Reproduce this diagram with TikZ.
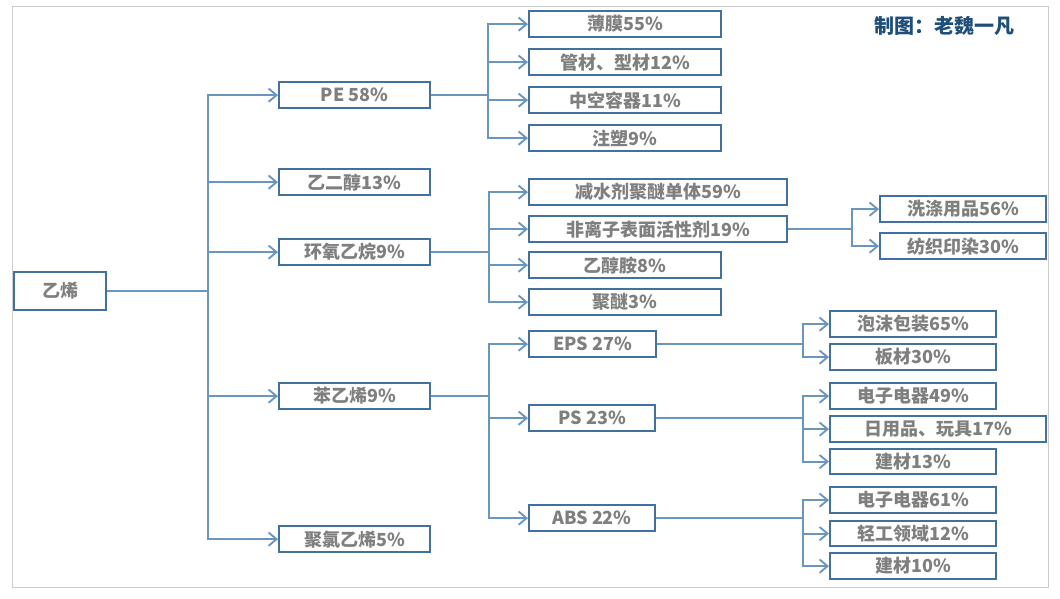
\documentclass[tikz,border=0pt]{standalone}
\usepackage{fontspec}
\setmainfont{Noto Sans CJK SC}
\usetikzlibrary{arrows.meta}
\definecolor{boxline}{HTML}{41719C}
\definecolor{connline}{HTML}{6A96BE}
\definecolor{labeltext}{HTML}{7F7F7F}
\definecolor{creditblue}{HTML}{1F4E79}
\tikzset{
  x=0.75pt, y=-0.75pt,
  itembox/.style={draw=boxline, line width=1.4pt, fill=white, inner sep=0pt, text=labeltext,
    font=\fontsize{13.5pt}{15pt}\selectfont\bfseries, anchor=north west},
  conn/.style={draw=connline, line width=1.4pt},
  arrowconn/.style={conn, -{Straight Barb[length=6pt,width=10pt,line width=1.4pt]}},
  frameline/.style={draw=black!20, line width=0.75pt},
  credit/.style={text=creditblue, font=\fontsize{15pt}{17pt}\selectfont\bfseries, inner sep=0pt}
}
\newcommand{\itemnode}[6]{% name, x0, y0, x1, y1, text
  \pgfmathsetlengthmacro{\itemw}{(#4-#2-0.8)*0.75pt}
  \pgfmathsetlengthmacro{\itemh}{(#5-#3-0.6)*0.75pt}
  \node[itembox, minimum width=\itemw, minimum height=\itemh] (#1) at (#2,#3) {#6};
}
\begin{document}
\begin{tikzpicture}
\useasboundingbox (0,0) rectangle (1060,599);
\draw[frameline] (12,7) rectangle (1048,587);
\node[credit] (creditnode) at (944,26) {制图：老魏一凡};

\coordinate (busyi) at (208,291);
\coordinate (buspe) at (488,95);
\coordinate (buseo) at (489,251);
\coordinate (busst) at (489,395);
\coordinate (buseob) at (852,228);
\coordinate (buseps) at (803,344);
\coordinate (busps) at (803,418);
\coordinate (busabs) at (803,518);

\itemnode{yi}{13}{271}{106}{310}{乙烯}
\itemnode{pe}{278}{81}{430}{108}{PE 58\%}
\itemnode{eg}{278}{168}{430}{195}{乙二醇13\%}
\itemnode{eo}{278}{238}{430}{265}{环氧乙烷9\%}
\itemnode{st}{278}{382}{430}{409}{苯乙烯9\%}
\itemnode{pvc}{278}{525}{430}{552}{聚氯乙烯5\%}

\itemnode{pea}{528}{10}{721}{37}{薄膜55\%}
\itemnode{peb}{528}{48}{721}{75}{管材、型材12\%}
\itemnode{pec}{528}{86}{721}{113}{中空容器11\%}
\itemnode{ped}{528}{124}{721}{151}{注塑9\%}

\itemnode{eoa}{528}{178}{787}{205}{减水剂聚醚单体59\%}
\itemnode{eob}{528}{215}{787}{242}{非离子表面活性剂19\%}
\itemnode{eoc}{528}{251}{721}{278}{乙醇胺8\%}
\itemnode{eod}{528}{288}{721}{315}{聚醚3\%}

\itemnode{eps}{528}{330}{656}{357}{EPS 27\%}
\itemnode{ps}{528}{404}{655}{431}{PS 23\%}
\itemnode{abs}{528}{504}{655}{531}{ABS 22\%}

\itemnode{wash}{879}{195}{1046}{222}{洗涤用品56\%}
\itemnode{text}{879}{232}{1046}{259}{纺织印染30\%}

\itemnode{epsa}{829}{310}{996}{337}{泡沫包装65\%}
\itemnode{epsb}{829}{343}{996}{370}{板材30\%}
\itemnode{psa}{829}{382}{996}{409}{电子电器49\%}
\itemnode{psb}{829}{415}{1046}{442}{日用品、玩具17\%}
\itemnode{psc}{829}{448}{996}{474}{建材13\%}
\itemnode{absa}{829}{486}{996}{513}{电子电器61\%}
\itemnode{absb}{829}{520}{996}{546}{轻工领域12\%}
\itemnode{absc}{829}{552}{996}{579}{建材10\%}

\draw[conn] (yi.east) -- (yi.east -| busyi);
\draw[conn] (pe.east) -- (pe.east -| buspe);
\draw[conn] (eo.east) -- (eo.east -| buseo);
\draw[conn] (st.east) -- (st.east -| busst);
\draw[conn] (eob.east) -- (eob.east -| buseob);
\draw[conn] (eps.east) -- (eps.east -| buseps);
\draw[conn] (ps.east) -- (ps.east -| busps);
\draw[conn] (abs.east) -- (abs.east -| busabs);

\foreach \bus/\kids in {busyi/{pe,eg,eo,st,pvc}, buspe/{pea,peb,pec,ped}, buseo/{eoa,eob,eoc,eod},
    busst/{eps,ps,abs}, buseob/{wash,text}, buseps/{epsa,epsb}, busps/{psa,psb,psc}, busabs/{absa,absb,absc}}{
  \foreach \kid in \kids {
    \draw[arrowconn] (\bus) |- (\kid.west);
  }
}
\end{tikzpicture}
\end{document}
